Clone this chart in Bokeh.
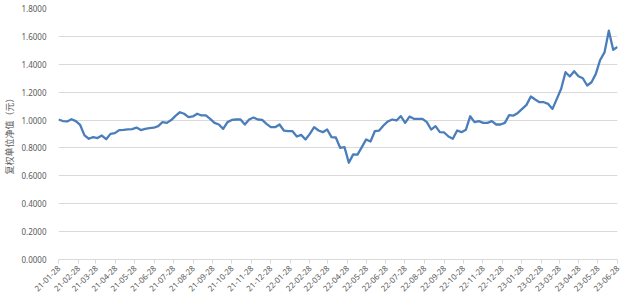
import math
import pandas as pd
from bokeh.plotting import figure
from bokeh.models import Range1d, FixedTicker, DatetimeTickFormatter, NumeralTickFormatter, ColumnDataSource
from bokeh.embed import file_html
from bokeh.resources import INLINE

# ---- data ----
nav = [
    1.004, 0.993, 0.990, 1.006, 0.992, 0.965, 0.890, 0.866, 0.878, 0.871,
    0.889, 0.863, 0.901, 0.906, 0.928, 0.930, 0.933, 0.935, 0.946, 0.928,
    0.937, 0.942, 0.945, 0.956, 0.985, 0.980, 1.000, 1.030,
    1.056, 1.045, 1.021, 1.026, 1.045, 1.033, 1.033, 1.009, 0.980, 0.968,
    0.937, 0.985, 1.001, 1.004, 1.004, 0.968, 1.004, 1.018, 1.004, 1.001,
    0.973, 0.949, 0.949, 0.968, 0.925, 0.920,
    0.920, 0.882, 0.894, 0.861, 0.901, 0.949, 0.925, 0.913, 0.932, 0.878,
    0.875, 0.801, 0.806, 0.694, 0.754, 0.752, 0.806, 0.861, 0.846, 0.920,
    0.925, 0.961, 0.990, 1.004, 0.997, 1.028, 0.980,
    1.025, 1.009, 1.009, 1.009, 0.985, 0.932, 0.956, 0.913, 0.911, 0.882,
    0.866, 0.925, 0.913, 0.930, 1.027, 0.985, 0.992, 0.980, 0.980, 0.992,
    0.968, 0.968, 0.980, 1.036, 1.032, 1.051, 1.080, 1.109, 1.169, 1.147,
    1.128, 1.128, 1.116, 1.080, 1.152, 1.224, 1.343, 1.312, 1.350, 1.314,
    1.300, 1.248, 1.271, 1.331, 1.431, 1.485, 1.641, 1.504, 1.525,
]
start_date = "2021-01-28"
end_date = "2023-06-28"
dates = pd.date_range(start=start_date, end=end_date, periods=len(nav))
tick_dates = pd.date_range(start="2021-01-28", periods=30, freq=pd.DateOffset(months=1))
y_ticks = [0.0, 0.2, 0.4, 0.6, 0.8, 1.0, 1.2, 1.4, 1.6, 1.8]
y_label = "复权单位净值（元）"

src = ColumnDataSource(dict(x=dates, y=nav))

p = figure(width=625, height=303, output_backend="svg", toolbar_location=None,
           x_axis_type="datetime",
           x_range=Range1d(dates[0], dates[-1]), y_range=Range1d(0, 1.8),
           min_border_left=54, min_border_right=8, min_border_top=8, min_border_bottom=44)
p.outline_line_color = None
p.background_fill_color = "white"
p.border_fill_color = "white"

p.line("x", "y", source=src, line_color="#4a7ebb", line_width=2.3, line_join="round")

label_font = "Noto Sans"
# x axis
xa = p.xaxis[0]
xa.ticker = FixedTicker(ticks=[t.timestamp() * 1000 for t in tick_dates])
fmt = "%y-%m-%d"
xa.formatter = DatetimeTickFormatter(days=fmt, months=fmt, years=fmt, hours=fmt,
                                     minutes=fmt, seconds=fmt, milliseconds=fmt,
                                     microseconds=fmt, minsec=fmt, hourmin=fmt)
xa.major_label_orientation = math.pi / 4
xa.major_label_text_font = label_font
xa.major_label_text_font_size = "8px"
xa.major_label_text_color = "#595959"
xa.axis_line_color = "#d9d9d9"
xa.major_tick_line_color = "#d9d9d9"
xa.major_tick_out = 4
xa.major_tick_in = 0
xa.minor_tick_line_color = None
xa.major_label_standoff = 3

# y axis
ya = p.yaxis[0]
ya.ticker = FixedTicker(ticks=y_ticks)
ya.formatter = NumeralTickFormatter(format="0.0000")
ya.major_label_text_font = label_font
ya.major_label_text_font_size = "8px"
ya.major_label_text_color = "#595959"
ya.axis_line_color = None
ya.major_tick_line_color = None
ya.minor_tick_line_color = None
ya.major_label_standoff = 6
ya.axis_label = y_label
ya.axis_label_text_font = "Noto Sans CJK SC"
ya.axis_label_text_font_size = "9px"
ya.axis_label_text_font_style = "normal"
ya.axis_label_text_color = "#595959"
ya.axis_label_standoff = 2

p.xgrid.grid_line_color = None
p.ygrid.grid_line_color = "#d9d9d9"
p.ygrid.grid_line_width = 1

open("out.html", "w").write(file_html(p, INLINE))
